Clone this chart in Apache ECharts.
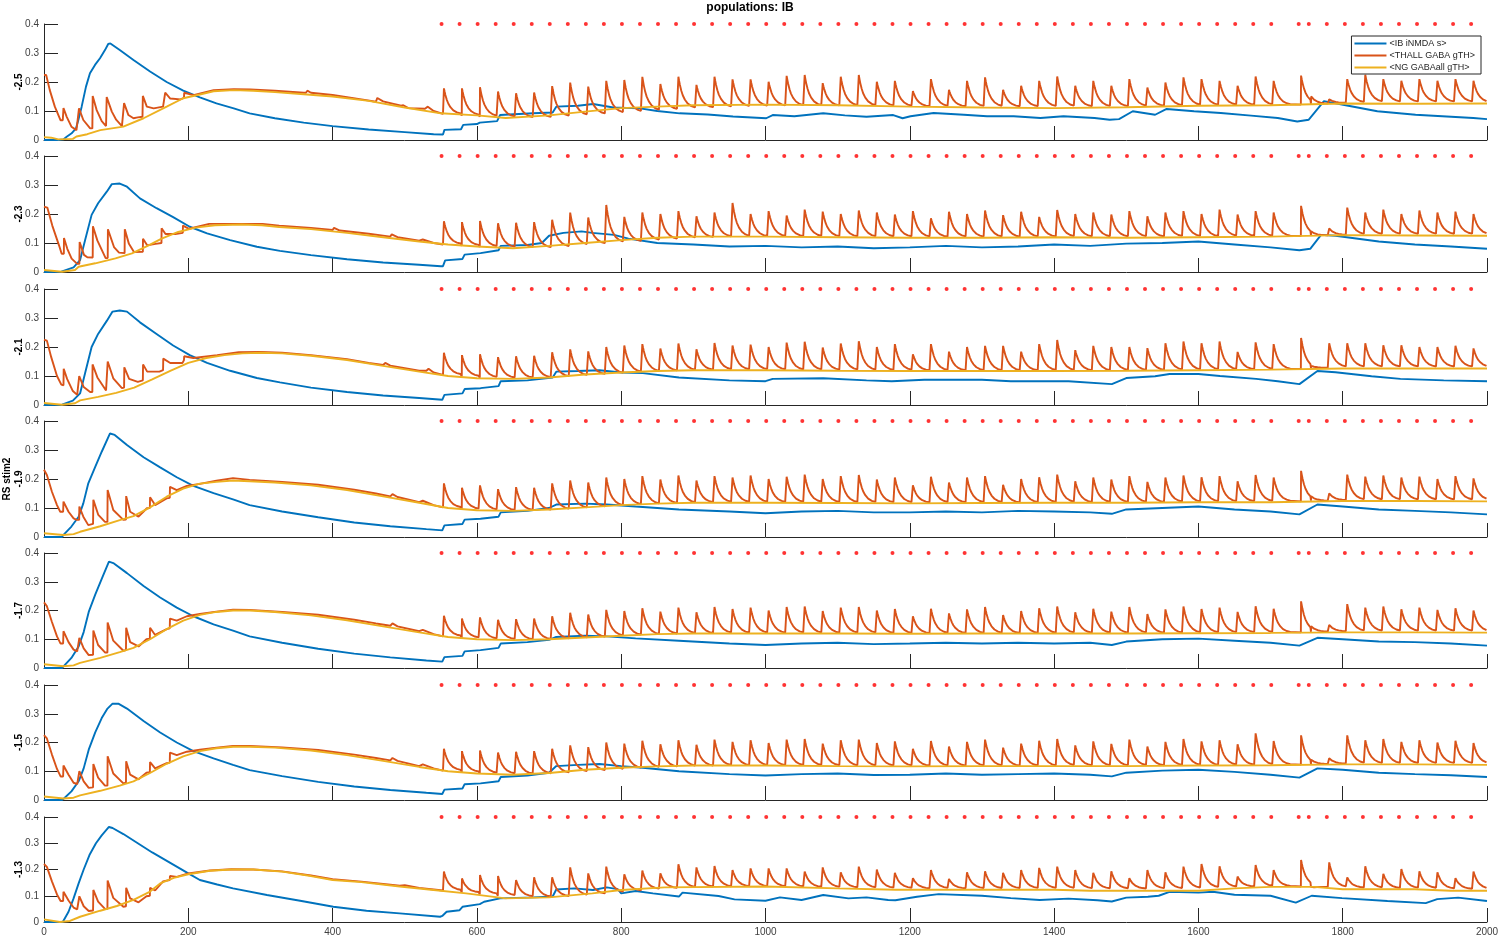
<!DOCTYPE html>
<html>
<head>
<meta charset="utf-8">
<script src="https://cdn.jsdelivr.net/npm/echarts@6/dist/echarts.min.js"></script>
<style>html,body{margin:0;padding:0;background:#fff;}#chart{width:1500px;height:938px;}</style>
</head>
<body>
<div id="chart"></div>
<script>
// ---------------- DATA ----------------
const TITLE = 'populations: IB';
const SERIES_NAMES = ['<IB iNMDA s>', '<THALL GABA gTH>', '<NG GABAall gTH>'];
const PANEL_LABELS = ['-2.5', '-2.3', '-2.1', 'RS stim2\n-1.9', '-1.7', '-1.5', '-1.3'];

// stimulus times (red dots, drawn at y = 0.4)
const STIM_TIMES = [551,576,601,626,651,676,701,726,751,776,801,826,851,876,901,926,951,976,1001,1026,1051,1076,1101,1126,1151,1176,1201,1226,1251,1276,1301,1326,1351,1376,1401,1426,1451,1476,1501,1526,1551,1576,1601,1626,1651,1676,1701,1739,1753,1778,1803,1828,1853,1878,1903,1928,1953,1978];
const DOT_LEVEL = 0.4;
const SPIKE_DELAY = 3;
// shape of one THALL spike after its peak (offset in ms, fraction of peak above trough)
const DECAY_OFFSETS = [0, 1, 2, 4, 6, 9, 13, 18, 23];
const DECAY_FRACTIONS = [1, 0.87, 0.75, 0.56, 0.42, 0.28, 0.16, 0.08, 0.04];

// ---- panel 1 (-2.5)
const P1_BLUE = [[0,0],[20,0],[26.8,0.002],[31.4,0.011],[38.3,0.023],[44.3,0.04],[47.6,0.069],[52.2,0.115],[58.2,0.184],[63.7,0.23],[70.7,0.259],[77.6,0.282],[84.5,0.31],[89,0.331],[92,0.333],[105,0.31],[124,0.276],[147,0.236],[170,0.2],[193,0.17],[216,0.147],[239,0.126],[263,0.109],[285,0.092],[320,0.075],[360,0.06],[400,0.048],[450,0.036],[500,0.027],[540,0.02],[553,0.019],[555,0.035],[578,0.037],[581,0.052],[600,0.055],[604,0.06],[628,0.065],[632,0.086],[678,0.092],[705,0.095],[710,0.115],[740,0.118],[761,0.124],[789,0.112],[826,0.109],[850,0.1],[881,0.092],[920,0.088],[955,0.081],[1001,0.075],[1010,0.086],[1040,0.082],[1080,0.092],[1110,0.085],[1140,0.08],[1177,0.086],[1190,0.075],[1201,0.082],[1233,0.093],[1275,0.087],[1307,0.082],[1344,0.082],[1381,0.076],[1413,0.082],[1456,0.076],[1477,0.07],[1490,0.072],[1509,0.099],[1540,0.087],[1556,0.107],[1594,0.099],[1631,0.093],[1673,0.084],[1710,0.076],[1737,0.064],[1753,0.07],[1774,0.134],[1806,0.119],[1848,0.099],[1901,0.087],[1938,0.082],[1981,0.076],[2000,0.072]];
const P1_YELLOW = [[0,0.01],[10,0.008],[20,0.002],[40,0.004],[45,0.012],[60,0.02],[78,0.034],[110,0.046],[138,0.075],[170,0.115],[193,0.144],[216,0.157],[235,0.168],[263,0.172],[290,0.17],[320,0.165],[360,0.158],[400,0.15],[450,0.135],[500,0.112],[550,0.092],[600,0.085],[640,0.076],[700,0.085],[750,0.098],[800,0.11],[850,0.115],[900,0.12],[1000,0.122],[1100,0.12],[1200,0.115],[1300,0.112],[1400,0.11],[1500,0.113],[1600,0.118],[1700,0.12],[1800,0.126],[1900,0.125],[2000,0.126]];
const P1_ORANGE_EARLY = [[0,0.224],[3,0.224],[8,0.172],[15,0.115],[23,0.068],[26,0.068],[27,0.11],[31.5,0.08],[38,0.046],[45,0.034],[47,0.034],[48.5,0.109],[54.5,0.069],[64,0.04],[67,0.04],[67.5,0.152],[73,0.103],[80,0.065],[86,0.048],[86.9,0.148],[94,0.098],[100,0.07],[108,0.048],[110,0.05],[111,0.127],[117,0.086],[124,0.075],[130,0.078],[136.5,0.08],[137,0.152],[142.5,0.115],[152,0.109],[165,0.115],[167.5,0.118],[168,0.163],[175,0.143],[189,0.14],[194,0.145],[194.3,0.163],[207,0.155],[235,0.172],[263,0.175],[286,0.174],[320,0.17],[360,0.163],[363,0.163],[365,0.17],[370,0.163],[400,0.155],[440,0.14],[460,0.132],[462,0.145],[470,0.133],[495,0.118],[498,0.12],[505,0.11],[528,0.108],[532,0.115],[540,0.1],[553,0.09]];
const P1_PEAKS_MILLI = [178,178,182,167,161,164,186,198,184,204,207,218,193,218,190,218,209,209,201,221,224,196,218,224,201,204,169,210,173,204,216,173,187,204,219,187,204,187,210,181,198,216,210,204,187,219,204,222,150,140,210,225,210,204,210,204,210,204];
const P1_TROUGHS_MILLI = [88,84,80,78,76,76,80,84,88,92,96,100,104,108,110,112,114,115,116,116,116,116,116,116,116,115,114,114,114,114,114,114,114,114,114,114,114,114,115,116,117,118,118,119,119,119,120,122,125,128,128,130,130,130,130,130,130,128];

// ---- panel 2 (-2.3)
const P2_BLUE = [[0,0],[24,0.001],[41,0.016],[50,0.041],[57,0.11],[66,0.197],[75,0.237],[87,0.277],[94,0.303],[105,0.305],[115,0.294],[133,0.254],[156,0.22],[179,0.189],[202,0.156],[226,0.133],[258,0.11],[295,0.087],[327,0.073],[370,0.058],[420,0.044],[470,0.033],[520,0.025],[550,0.02],[553,0.02],[556,0.04],[580,0.045],[583,0.06],[605,0.065],[630,0.075],[633,0.09],[670,0.093],[690,0.1],[700,0.125],[720,0.135],[745,0.14],[760,0.135],[790,0.128],[810,0.115],[850,0.1],[900,0.095],[950,0.088],[1000,0.09],[1050,0.085],[1100,0.088],[1150,0.082],[1200,0.085],[1250,0.09],[1300,0.085],[1350,0.088],[1400,0.095],[1450,0.09],[1500,0.098],[1550,0.1],[1600,0.105],[1650,0.095],[1700,0.085],[1740,0.075],[1755,0.08],[1770,0.128],[1790,0.125],[1850,0.105],[1900,0.095],[1950,0.088],[2000,0.08]];
const P2_YELLOW = [[0,0.007],[25,0.001],[43,0.007],[48,0.018],[71,0.03],[99,0.047],[122,0.064],[145,0.092],[163,0.115],[186,0.138],[210,0.153],[237,0.161],[274,0.164],[302,0.161],[326,0.155],[370,0.148],[420,0.135],[470,0.12],[520,0.105],[560,0.095],[600,0.088],[650,0.082],[700,0.09],[750,0.1],[800,0.11],[850,0.118],[900,0.122],[1000,0.122],[1100,0.12],[1200,0.118],[1300,0.118],[1400,0.12],[1500,0.118],[1600,0.12],[1700,0.122],[1800,0.127],[1900,0.126],[2000,0.125]];
const P2_ORANGE_EARLY = [[0,0.225],[4.6,0.222],[11.5,0.16],[20.8,0.092],[24.5,0.063],[27.5,0.063],[27.7,0.117],[32.3,0.08],[38.3,0.046],[46,0.028],[49,0.028],[49.4,0.103],[55.4,0.059],[60,0.051],[67.5,0.05],[67.8,0.158],[73.9,0.109],[85.4,0.048],[88.3,0.048],[88.6,0.147],[97,0.086],[104,0.067],[111.7,0.065],[112,0.147],[117.7,0.097],[124.7,0.069],[137,0.07],[137.2,0.115],[143,0.092],[154.6,0.097],[162.8,0.1],[163,0.151],[168.4,0.131],[182,0.131],[192.4,0.135],[192.6,0.16],[201,0.149],[229,0.166],[256,0.166],[303,0.166],[326,0.16],[370,0.152],[400,0.145],[402,0.152],[410,0.143],[450,0.132],[480,0.122],[482,0.13],[490,0.12],[520,0.108],[525,0.112],[540,0.1],[553,0.095]];
const P2_PEAKS_MILLI = [175,172,176,168,170,172,180,205,188,231,190,205,200,210,192,205,238,200,210,195,215,208,200,212,205,198,210,185,208,200,212,196,208,190,214,200,205,198,210,192,205,210,200,215,198,210,205,228,140,150,222,205,215,200,212,205,208,200];
const P2_TROUGHS_MILLI = [95,90,86,84,82,82,86,92,96,100,104,108,112,116,118,120,120,121,121,121,121,120,120,120,120,120,119,119,119,119,119,119,119,120,120,120,120,120,120,120,121,121,121,122,122,122,122,124,126,128,128,129,129,129,129,129,129,128];

// ---- panel 3 (-2.1)
const P3_BLUE = [[0,0],[25,0.001],[40,0.015],[50,0.04],[57,0.11],[66,0.2],[75,0.245],[87,0.29],[95,0.322],[105,0.326],[115,0.322],[133,0.285],[156,0.245],[179,0.205],[202,0.172],[226,0.145],[258,0.118],[295,0.093],[327,0.078],[370,0.06],[420,0.045],[470,0.033],[520,0.024],[552,0.018],[555,0.035],[580,0.04],[583,0.055],[605,0.058],[630,0.065],[633,0.082],[670,0.085],[705,0.095],[710,0.115],[740,0.117],[770,0.12],[800,0.112],[830,0.11],[880,0.095],[950,0.085],[1000,0.082],[1010,0.09],[1080,0.092],[1140,0.085],[1175,0.082],[1220,0.087],[1300,0.087],[1340,0.082],[1420,0.082],[1480,0.072],[1500,0.093],[1540,0.099],[1560,0.107],[1600,0.107],[1630,0.1],[1680,0.09],[1710,0.082],[1740,0.072],[1765,0.117],[1790,0.113],[1840,0.099],[1880,0.09],[1940,0.085],[2000,0.082]];
const P3_YELLOW = [[0,0.007],[25,0.001],[43,0.006],[50,0.016],[75,0.028],[100,0.042],[125,0.06],[150,0.088],[175,0.118],[200,0.145],[225,0.162],[250,0.172],[275,0.178],[300,0.18],[330,0.178],[370,0.17],[420,0.155],[470,0.135],[520,0.115],[560,0.1],[600,0.092],[650,0.09],[700,0.095],[750,0.105],[800,0.112],[850,0.117],[900,0.12],[1000,0.12],[1100,0.118],[1200,0.117],[1300,0.117],[1400,0.117],[1500,0.118],[1600,0.12],[1700,0.122],[1800,0.126],[1900,0.126],[2000,0.126]];
const P3_ORANGE_EARLY = [[0,0.225],[4,0.222],[10,0.165],[18,0.1],[24,0.07],[27,0.068],[27.3,0.125],[32,0.09],[40,0.048],[46,0.035],[48.5,0.035],[48.8,0.1],[55,0.062],[64,0.045],[67,0.045],[67.3,0.14],[74,0.095],[86,0.05],[88,0.05],[88.3,0.15],[96,0.092],[108,0.058],[111,0.06],[111.3,0.13],[118,0.09],[130,0.08],[137,0.085],[137.3,0.14],[143,0.115],[160,0.115],[165,0.12],[165.3,0.16],[175,0.145],[192,0.145],[194,0.155],[194.3,0.168],[207,0.162],[240,0.172],[270,0.182],[300,0.183],[330,0.18],[370,0.172],[420,0.158],[450,0.145],[470,0.138],[473,0.145],[480,0.136],[520,0.118],[530,0.118],[533,0.125],[540,0.112],[553,0.104]];
const P3_PEAKS_MILLI = [180,172,175,165,168,170,182,192,185,200,205,210,195,212,192,214,205,208,200,215,218,198,212,220,200,210,175,210,184,200,204,204,184,210,224,189,204,200,200,196,213,219,213,219,183,216,210,231,135,213,213,213,206,206,200,200,204,195];
const P3_TROUGHS_MILLI = [104,98,94,92,92,93,96,100,104,108,112,114,116,118,119,120,120,120,120,119,119,119,119,118,118,118,117,117,117,117,117,117,117,117,117,117,117,118,118,118,119,119,120,120,121,121,122,124,128,130,130,130,130,130,130,130,130,130];

// ---- panel 4 (RS stim2 -1.9)
const P4_BLUE = [[0,0],[25,0],[27,0.007],[38,0.036],[48,0.07],[54.5,0.116],[61.4,0.185],[70.7,0.24],[80,0.294],[91.5,0.357],[98,0.352],[115,0.317],[138,0.275],[161,0.24],[184,0.206],[207,0.176],[235,0.151],[262,0.13],[285,0.11],[330,0.088],[380,0.068],[430,0.05],[480,0.037],[530,0.027],[552,0.023],[555,0.04],[580,0.045],[583,0.06],[605,0.063],[630,0.07],[633,0.085],[670,0.09],[700,0.1],[710,0.112],[750,0.115],[780,0.112],[820,0.105],[880,0.095],[950,0.088],[1000,0.082],[1050,0.088],[1100,0.09],[1150,0.085],[1200,0.085],[1250,0.088],[1300,0.085],[1350,0.09],[1400,0.088],[1450,0.085],[1480,0.08],[1500,0.095],[1550,0.1],[1600,0.105],[1650,0.095],[1700,0.088],[1740,0.078],[1765,0.112],[1800,0.105],[1850,0.095],[1900,0.09],[1950,0.085],[2000,0.078]];
const P4_YELLOW = [[0,0.013],[27,0.007],[41,0.01],[50,0.018],[78,0.037],[105,0.058],[124,0.072],[147,0.102],[170,0.139],[193,0.167],[216,0.184],[239,0.19],[262,0.195],[285,0.192],[320,0.188],[370,0.178],[420,0.162],[470,0.14],[520,0.118],[560,0.1],[600,0.092],[650,0.09],[700,0.095],[750,0.102],[800,0.11],[850,0.115],[900,0.118],[1000,0.118],[1100,0.117],[1200,0.116],[1300,0.117],[1400,0.118],[1500,0.118],[1600,0.12],[1700,0.12],[1800,0.124],[1900,0.124],[2000,0.123]];
const P4_ORANGE_EARLY = [[0,0.232],[4,0.214],[11,0.156],[18,0.11],[22.5,0.087],[26.5,0.087],[27,0.122],[34,0.087],[41,0.064],[45.3,0.059],[48.7,0.059],[49,0.105],[54.5,0.07],[61.4,0.041],[68,0.045],[68.4,0.128],[75.3,0.076],[84.5,0.052],[87.9,0.052],[88.2,0.162],[96,0.093],[110,0.059],[113.6,0.06],[113.9,0.141],[119.4,0.087],[131,0.07],[142.6,0.099],[146.7,0.1],[147,0.137],[154,0.11],[170,0.133],[174.3,0.135],[174.6,0.173],[184,0.162],[198,0.176],[216,0.183],[239,0.194],[262,0.203],[285,0.197],[330,0.19],[380,0.18],[430,0.163],[460,0.15],[480,0.14],[483,0.148],[490,0.138],[520,0.12],[525,0.125],[540,0.11],[553,0.102]];
const P4_PEAKS_MILLI = [185,170,178,165,172,170,185,195,188,205,200,210,198,212,195,210,205,212,200,208,215,200,210,214,198,205,178,208,188,205,210,180,200,206,215,192,205,198,210,190,205,212,206,210,192,214,205,228,140,150,215,208,212,205,208,200,210,202];
const P4_TROUGHS_MILLI = [100,95,92,90,90,91,94,98,102,106,110,112,114,116,117,118,118,118,118,118,118,118,117,117,117,117,117,117,117,117,117,117,117,117,118,118,118,118,118,118,119,119,120,120,121,121,122,123,125,127,127,127,127,127,127,127,127,126];

// ---- panel 5 (-1.7)
const P5_BLUE = [[0,0],[25,0],[28,0.008],[38,0.035],[48,0.075],[55,0.125],[62,0.195],[71,0.255],[80,0.31],[90,0.37],[96,0.365],[115,0.33],[138,0.285],[161,0.245],[184,0.21],[207,0.18],[235,0.152],[262,0.13],[285,0.11],[330,0.088],[380,0.067],[430,0.05],[480,0.037],[530,0.026],[552,0.022],[555,0.038],[580,0.042],[583,0.058],[605,0.062],[630,0.07],[633,0.085],[670,0.09],[700,0.098],[710,0.108],[750,0.112],[780,0.11],[820,0.103],[880,0.095],[950,0.085],[1000,0.08],[1050,0.085],[1100,0.088],[1150,0.083],[1200,0.085],[1250,0.088],[1300,0.085],[1350,0.088],[1400,0.085],[1450,0.088],[1480,0.08],[1500,0.092],[1550,0.1],[1600,0.102],[1650,0.095],[1700,0.088],[1740,0.078],[1765,0.105],[1800,0.1],[1850,0.092],[1900,0.09],[1950,0.085],[2000,0.078]];
const P5_YELLOW = [[0,0.013],[27,0.006],[41,0.009],[50,0.018],[78,0.035],[105,0.055],[124,0.07],[147,0.1],[170,0.135],[193,0.165],[216,0.185],[239,0.195],[262,0.2],[285,0.2],[320,0.195],[370,0.183],[420,0.166],[470,0.145],[520,0.124],[560,0.108],[600,0.1],[650,0.097],[700,0.1],[750,0.106],[800,0.112],[850,0.118],[900,0.12],[1000,0.12],[1100,0.12],[1200,0.119],[1300,0.12],[1400,0.12],[1500,0.12],[1600,0.121],[1700,0.122],[1800,0.124],[1900,0.124],[2000,0.123]];
const P5_ORANGE_EARLY = [[0,0.228],[4,0.215],[11,0.16],[18,0.11],[23,0.085],[26.5,0.085],[27,0.128],[34,0.09],[41,0.064],[46,0.058],[48.7,0.058],[49,0.105],[55,0.068],[62,0.045],[68,0.046],[68.4,0.13],[75,0.08],[84.5,0.054],[87.9,0.054],[88.2,0.158],[96,0.095],[110,0.06],[113.6,0.062],[113.9,0.14],[119.4,0.09],[131,0.075],[142,0.1],[146.7,0.102],[147,0.14],[154,0.115],[170,0.135],[174.3,0.138],[174.6,0.172],[184,0.165],[198,0.18],[216,0.188],[239,0.196],[262,0.203],[285,0.202],[330,0.195],[380,0.185],[430,0.168],[460,0.155],[480,0.147],[483,0.155],[490,0.145],[520,0.128],[525,0.133],[540,0.118],[553,0.11]];
const P5_PEAKS_MILLI = [182,172,176,168,170,172,180,192,186,202,198,208,196,210,194,212,205,210,200,212,214,198,210,212,200,205,180,206,190,204,212,184,198,208,214,194,206,196,212,188,204,214,205,210,195,215,206,232,145,150,222,210,214,204,210,202,208,200];
const P5_TROUGHS_MILLI = [110,104,100,98,97,98,100,103,106,110,113,115,117,118,119,120,120,120,120,120,120,120,120,120,119,119,119,119,119,119,119,119,119,119,120,120,120,120,120,120,120,121,121,121,122,122,122,124,126,127,127,127,127,127,127,127,127,126];

// ---- panel 6 (-1.5)
const P6_BLUE = [[0,0],[25,0],[28,0.006],[38,0.03],[48,0.065],[55,0.11],[62,0.175],[71,0.235],[80,0.285],[88,0.318],[95,0.335],[103,0.335],[115,0.318],[138,0.275],[161,0.235],[184,0.2],[207,0.17],[235,0.145],[262,0.122],[285,0.104],[330,0.083],[380,0.063],[430,0.047],[480,0.035],[530,0.025],[552,0.021],[555,0.036],[580,0.04],[583,0.055],[605,0.058],[630,0.065],[633,0.08],[670,0.085],[700,0.095],[710,0.118],[740,0.122],[770,0.125],[800,0.118],[830,0.112],[880,0.1],[950,0.09],[1000,0.085],[1050,0.09],[1100,0.092],[1150,0.087],[1200,0.088],[1250,0.092],[1300,0.088],[1350,0.09],[1400,0.092],[1450,0.088],[1480,0.082],[1500,0.095],[1550,0.102],[1600,0.105],[1650,0.098],[1700,0.088],[1740,0.078],[1765,0.11],[1800,0.105],[1850,0.095],[1900,0.09],[1950,0.086],[2000,0.08]];
const P6_YELLOW = [[0,0.012],[27,0.005],[41,0.008],[50,0.016],[78,0.032],[105,0.05],[124,0.065],[147,0.094],[170,0.126],[193,0.152],[216,0.17],[239,0.18],[262,0.185],[285,0.185],[320,0.182],[370,0.172],[420,0.156],[470,0.136],[520,0.115],[560,0.1],[600,0.092],[650,0.088],[700,0.094],[750,0.105],[800,0.112],[850,0.117],[900,0.12],[1000,0.12],[1100,0.118],[1200,0.117],[1300,0.118],[1400,0.118],[1500,0.118],[1600,0.12],[1700,0.121],[1800,0.124],[1900,0.124],[2000,0.122]];
const P6_ORANGE_EARLY = [[0,0.226],[4,0.214],[11,0.158],[18,0.108],[23,0.082],[26.5,0.082],[27,0.12],[34,0.088],[41,0.06],[46,0.055],[48.7,0.055],[49,0.1],[55,0.065],[62,0.042],[68,0.044],[68.4,0.125],[75,0.078],[84.5,0.05],[87.9,0.05],[88.2,0.152],[96,0.092],[110,0.058],[113.6,0.06],[113.9,0.135],[119.4,0.088],[131,0.072],[142,0.095],[146.7,0.097],[147,0.132],[154,0.11],[170,0.128],[174.3,0.13],[174.6,0.165],[184,0.156],[198,0.168],[216,0.175],[239,0.182],[262,0.188],[285,0.188],[330,0.183],[380,0.174],[430,0.158],[460,0.146],[480,0.138],[483,0.146],[490,0.136],[520,0.118],[525,0.124],[540,0.11],[553,0.102]];
const P6_PEAKS_MILLI = [178,170,172,165,168,170,178,190,184,200,196,206,194,208,192,210,202,208,198,210,212,196,208,210,198,204,178,205,186,202,210,182,196,206,212,190,204,195,210,186,202,212,204,208,194,232,205,225,140,145,225,208,212,202,208,200,206,198];
const P6_TROUGHS_MILLI = [102,96,92,90,89,90,93,97,101,105,109,112,114,116,117,118,118,118,118,118,118,118,117,117,117,117,117,117,117,117,117,117,117,117,118,118,118,118,118,118,119,119,119,120,120,120,121,123,125,126,126,126,126,126,126,126,126,125];

// ---- panel 7 (-1.3)
const P7_BLUE = [[0,0],[26,0],[27,0.001],[34,0.039],[41,0.09],[48,0.147],[55,0.2],[63,0.255],[72,0.3],[80,0.33],[90,0.362],[95,0.358],[110,0.335],[130,0.3],[150,0.265],[175,0.225],[200,0.185],[216,0.16],[240,0.143],[262,0.128],[309,0.103],[355,0.081],[401,0.058],[447,0.043],[493,0.033],[549,0.02],[552,0.023],[558,0.039],[576,0.045],[580,0.058],[604,0.068],[610,0.077],[632,0.09],[678,0.094],[705,0.097],[710,0.124],[735,0.128],[761,0.122],[780,0.132],[795,0.125],[800,0.109],[820,0.118],[844,0.109],[880,0.097],[885,0.112],[935,0.099],[957,0.086],[1000,0.081],[1020,0.094],[1050,0.084],[1080,0.103],[1115,0.09],[1140,0.094],[1170,0.084],[1180,0.083],[1210,0.096],[1240,0.106],[1300,0.1],[1340,0.091],[1380,0.084],[1420,0.089],[1460,0.083],[1480,0.078],[1500,0.093],[1530,0.096],[1545,0.1],[1560,0.115],[1600,0.112],[1620,0.115],[1650,0.104],[1700,0.1],[1735,0.074],[1757,0.1],[1799,0.091],[1862,0.08],[1915,0.072],[1931,0.087],[1960,0.093],[2000,0.08]];
const P7_YELLOW = [[0,0.01],[22,0],[36,0.004],[50,0.02],[78,0.043],[101,0.061],[124,0.084],[147,0.116],[161,0.147],[180,0.168],[200,0.182],[230,0.195],[260,0.2],[290,0.2],[330,0.192],[370,0.175],[400,0.16],[440,0.152],[493,0.135],[540,0.122],[585,0.109],[640,0.09],[700,0.094],[760,0.109],[800,0.122],[860,0.132],[1000,0.135],[1100,0.128],[1180,0.123],[1300,0.123],[1400,0.123],[1450,0.119],[1600,0.119],[1650,0.128],[1700,0.134],[1760,0.134],[1800,0.125],[1900,0.125],[1950,0.119],[2000,0.119]];
const P7_ORANGE_EARLY = [[0,0.221],[4,0.21],[11,0.155],[18,0.105],[23,0.08],[26.5,0.08],[27,0.115],[34,0.082],[41,0.055],[46,0.048],[48.7,0.048],[49,0.098],[55,0.06],[62,0.042],[68,0.044],[68.4,0.122],[75,0.078],[84.5,0.05],[87.9,0.05],[88.2,0.158],[96,0.092],[110,0.058],[113.6,0.06],[113.9,0.13],[119.4,0.09],[131,0.075],[142,0.098],[146.7,0.1],[147,0.13],[154,0.12],[165,0.155],[174.3,0.16],[174.6,0.175],[184,0.172],[200,0.185],[230,0.196],[260,0.201],[290,0.2],[330,0.193],[370,0.177],[400,0.163],[440,0.154],[480,0.142],[493,0.138],[500,0.14],[520,0.13],[540,0.124],[553,0.12]];
const P7_PEAKS_MILLI = [192,166,179,175,160,170,170,208,185,211,182,196,185,220,208,213,198,204,204,204,192,208,189,211,200,187,167,198,164,189,193,187,198,206,211,198,187,193,167,198,189,211,221,212,173,217,198,236,130,227,170,212,183,202,193,189,167,192];
const P7_TROUGHS_MILLI = [120,112,106,100,96,94,96,100,106,112,118,124,128,130,132,133,134,134,134,133,132,131,130,129,128,128,127,127,127,127,127,127,127,127,127,126,126,126,126,126,127,128,130,132,134,135,135,135,134,132,130,129,128,128,128,126,125,125];

// ---------------- CHART ----------------
const C_BLUE = '#0072BD', C_ORANGE = '#D95319', C_YELLOW = '#EDB120', C_DOT = '#FF0000';
const FONT = '"Liberation Sans", Arial, Helvetica, sans-serif';
const AX = '#262626';

const PANELS = [
  {blue: P1_BLUE, yellow: P1_YELLOW, early: P1_ORANGE_EARLY, peaks: P1_PEAKS_MILLI, troughs: P1_TROUGHS_MILLI},
  {blue: P2_BLUE, yellow: P2_YELLOW, early: P2_ORANGE_EARLY, peaks: P2_PEAKS_MILLI, troughs: P2_TROUGHS_MILLI},
  {blue: P3_BLUE, yellow: P3_YELLOW, early: P3_ORANGE_EARLY, peaks: P3_PEAKS_MILLI, troughs: P3_TROUGHS_MILLI},
  {blue: P4_BLUE, yellow: P4_YELLOW, early: P4_ORANGE_EARLY, peaks: P4_PEAKS_MILLI, troughs: P4_TROUGHS_MILLI},
  {blue: P5_BLUE, yellow: P5_YELLOW, early: P5_ORANGE_EARLY, peaks: P5_PEAKS_MILLI, troughs: P5_TROUGHS_MILLI},
  {blue: P6_BLUE, yellow: P6_YELLOW, early: P6_ORANGE_EARLY, peaks: P6_PEAKS_MILLI, troughs: P6_TROUGHS_MILLI},
  {blue: P7_BLUE, yellow: P7_YELLOW, early: P7_ORANGE_EARLY, peaks: P7_PEAKS_MILLI, troughs: P7_TROUGHS_MILLI}
];
const GRID_TOPS = [24, 156, 289, 421, 553, 685, 817];
const GRID_HEIGHTS = [116, 116, 116, 116, 115, 115, 105];

function buildOrange(p) {
  const pts = p.early.map(d => d.slice());
  for (let i = 0; i < STIM_TIMES.length; i++) {
    const t0 = STIM_TIMES[i] + SPIKE_DELAY;
    const next = i + 1 < STIM_TIMES.length ? STIM_TIMES[i + 1] + SPIKE_DELAY : 2000.01;
    const base = p.troughs[i] / 1000, pk = p.peaks[i] / 1000;
    pts.push([t0, base]);
    for (let j = 0; j < DECAY_OFFSETS.length; j++) {
      const t = t0 + 0.3 + DECAY_OFFSETS[j];
      if (t < next && t <= 2000) pts.push([t, base + (pk - base) * DECAY_FRACTIONS[j]]);
    }
  }
  return pts;
}

const grids = [], xAxes = [], yAxes = [], series = [];
PANELS.forEach((p, i) => {
  grids.push({left: 44, width: 1443, top: GRID_TOPS[i], height: GRID_HEIGHTS[i], containLabel: false, outerBoundsMode: 'none'});
  xAxes.push({
    type: 'value', gridIndex: i, min: 0, max: 2000, interval: 200,
    axisLine: {show: true, onZero: false, lineStyle: {color: AX, width: 1}},
    axisTick: {show: true, inside: true, length: 14, lineStyle: {color: AX, width: 1}},
    axisLabel: {show: i === PANELS.length - 1, color: '#404040', fontSize: 10, fontFamily: FONT, margin: 5,
      formatter: v => String(v)},
    splitLine: {show: false}
  });
  yAxes.push({
    type: 'value', gridIndex: i, min: 0, max: 0.4, interval: 0.1,
    name: PANEL_LABELS[i], nameLocation: 'middle', nameRotate: 90, nameGap: 19, nameMoveOverlap: false,
    nameTextStyle: {fontWeight: 'bold', fontSize: 10, color: '#000', fontFamily: FONT, lineHeight: 12},
    axisLine: {show: true, onZero: false, lineStyle: {color: AX, width: 1}},
    axisTick: {show: true, inside: true, length: 14, lineStyle: {color: AX, width: 1}},
    axisLabel: {color: '#404040', fontSize: 10, fontFamily: FONT, margin: 5,
      formatter: v => (Math.abs(v) < 1e-9 ? '0' : v.toFixed(1))},
    splitLine: {show: false}
  });
  const common = {type: 'line', xAxisIndex: i, yAxisIndex: i, symbol: 'none', showSymbol: false, animation: false, silent: true};
  series.push(Object.assign({}, common, {name: SERIES_NAMES[0], data: p.blue, z: 2,
    lineStyle: {color: C_BLUE, width: 1.9}, itemStyle: {color: C_BLUE}}));
  series.push(Object.assign({}, common, {name: SERIES_NAMES[1], data: buildOrange(p), z: 3,
    lineStyle: {color: C_ORANGE, width: 1.9}, itemStyle: {color: C_ORANGE}}));
  series.push(Object.assign({}, common, {name: SERIES_NAMES[2], data: p.yellow, z: 4,
    lineStyle: {color: C_YELLOW, width: 1.9}, itemStyle: {color: C_YELLOW}}));
  series.push({type: 'scatter', name: 'stim', xAxisIndex: i, yAxisIndex: i, clip: false, silent: true, animation: false,
    data: STIM_TIMES.map(t => [t, DOT_LEVEL]), symbol: 'circle', symbolSize: 4, z: 5,
    itemStyle: {color: C_DOT}});
});

const chart = echarts.init(document.getElementById('chart'), null, {renderer: 'canvas'});
chart.setOption({
  backgroundColor: '#fff',
  animation: false,
  title: {text: TITLE, left: 'center', top: 2, padding: 0, textStyle: {fontSize: 12, fontWeight: 'bold', color: '#000', fontFamily: FONT}},
  legend: {
    data: SERIES_NAMES, orient: 'vertical', right: 19, top: 36,
    icon: 'rect', itemWidth: 32, itemHeight: 2, itemGap: 3,
    padding: [3, 6, 2, 3], borderColor: AX, borderWidth: 1, backgroundColor: '#fff', borderRadius: 0,
    textStyle: {fontSize: 9, color: '#262626', fontFamily: FONT, padding: [0, 0, 0, -2]},
    selectedMode: false, z: 10
  },
  grid: grids, xAxis: xAxes, yAxis: yAxes, series: series
});
</script>
</body>
</html>
